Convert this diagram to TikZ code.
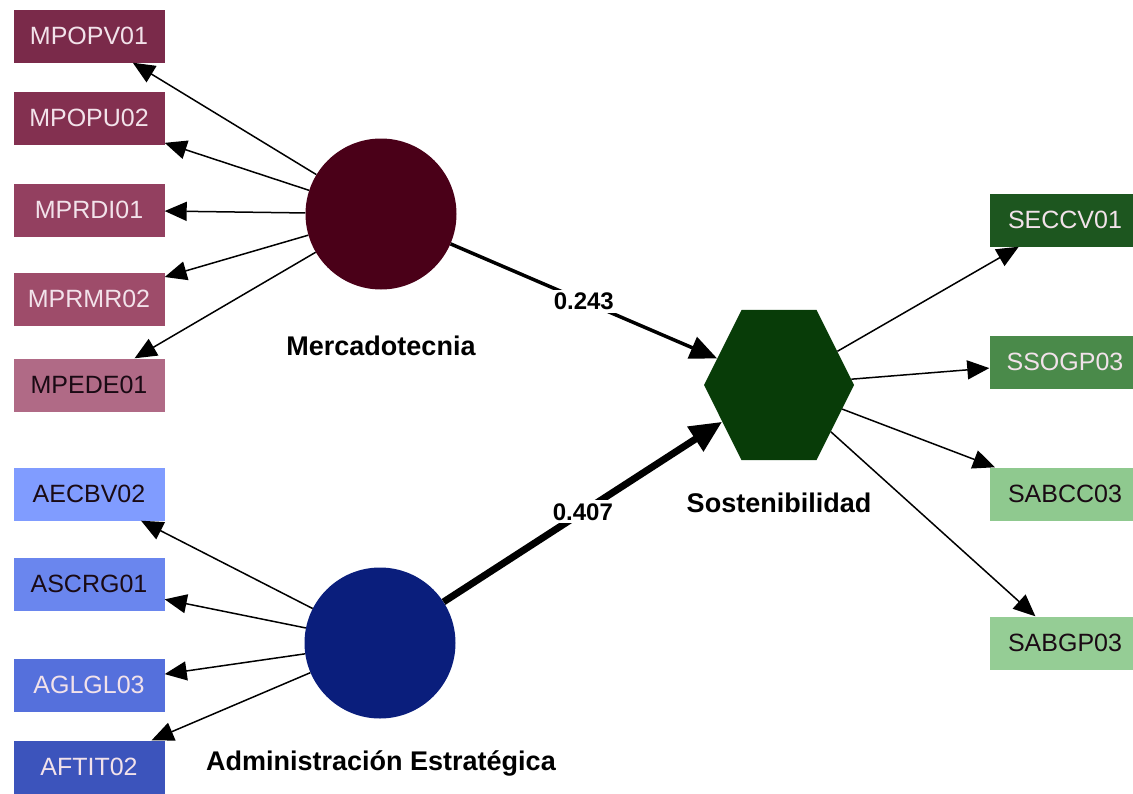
\documentclass[tikz,border=0pt]{standalone}
\usepackage{fontspec}
\setmainfont{Liberation Sans}
\usepackage{xcolor}
\usetikzlibrary{arrows.meta,shapes.geometric}

% colours of the three blocks
\definecolor{mcirc}{HTML}{4A0018}
\definecolor{mA}{HTML}{7A2A4A}
\definecolor{mB}{HTML}{833050}
\definecolor{mC}{HTML}{934060}
\definecolor{mD}{HTML}{9E4C6A}
\definecolor{mE}{HTML}{B06A86}
\definecolor{acirc}{HTML}{0A1E7C}
\definecolor{aA}{HTML}{809CFF}
\definecolor{aB}{HTML}{6A86EE}
\definecolor{aC}{HTML}{5570DC}
\definecolor{aD}{HTML}{3C54BC}
\definecolor{shex}{HTML}{083C08}
\definecolor{sA}{HTML}{1D561F}
\definecolor{sB}{HTML}{4A8A4A}
\definecolor{sC}{HTML}{8FC98F}
\definecolor{sD}{HTML}{95CD95}
\definecolor{txtlight}{HTML}{F2E2EA}
\definecolor{txtdark}{HTML}{1A0A14}

\tikzset{
  item/.style={rectangle, minimum width=151pt, minimum height=53pt, inner sep=0pt,
    font=\fontsize{25}{25}\selectfont, text=txtlight},
  dk/.style={text=txtdark},
  latent/.style={circle, minimum size=151pt, inner sep=0pt},
  lv/.style={anchor=base, font=\fontsize{27}{27}\selectfont\bfseries},
  ind/.style={-{Triangle[length=22pt,width=19pt]}, line width=1.5pt},
  pathw/.style={midway, fill=white, inner sep=3pt, font=\fontsize{24}{24}\selectfont\bfseries}
}

\begin{document}
\begin{tikzpicture}[x=1pt, y=-1pt]
  \useasboundingbox (0,0) rectangle (1133,793);

  % latent variables
  \node[latent, fill=mcirc] (merc) at (381,214) {};
  \node[latent, fill=acirc] (admin) at (380,643) {};
  \node[regular polygon, regular polygon sides=6, minimum size=150pt, inner sep=0pt,
        fill=shex, yscale=1.155, transform shape] (sost) at (779,385) {};
  \node[lv] (mercl) at (381,355) {Mercadotecnia};
  \node[lv] (adminl) at (381,770) {Administración Estratégica};
  \node[lv] (sostl) at (779,512) {Sostenibilidad};

  % indicators
  \node[item, fill=mA] (mpopv) at (89,36) {MPOPV01};
  \node[item, fill=mB] (mpopu) at (89,118) {MPOPU02};
  \node[item, fill=mC] (mprdi) at (89,210) {MPRDI01};
  \node[item, fill=mD] (mprmr) at (89,299) {MPRMR02};
  \node[item, fill=mE, dk] (mpede) at (89,385) {MPEDE01};

  \node[item, fill=aA, dk] (aecbv) at (89,494) {AECBV02};
  \node[item, fill=aB, dk] (ascrg) at (89,584) {ASCRG01};
  \node[item, fill=aC] (aglgl) at (89,685) {AGLGL03};
  \node[item, fill=aD] (aftit) at (89,767) {AFTIT02};

  \node[item, fill=sA] (seccv) at (1065,220) {SECCV01};
  \node[item, fill=sB] (ssogp) at (1065,362) {SSOGP03};
  \node[item, fill=sC, dk] (sabcc) at (1065,494) {SABCC03};
  \node[item, fill=sD, dk] (sabgp) at (1065,643) {SABGP03};

  % loadings
  \draw[ind] (merc) -- (mpopv);
  \draw[ind] (merc) -- (mpopu);
  \draw[ind] (merc) -- (mprdi);
  \draw[ind] (merc) -- (mprmr);
  \draw[ind] (merc) -- (mpede);
  \draw[ind] (admin) -- (aecbv);
  \draw[ind] (admin) -- (ascrg);
  \draw[ind] (admin) -- (aglgl);
  \draw[ind] (admin) -- (aftit);
  \draw[ind] (sost) -- (seccv);
  \draw[ind] (sost) -- (ssogp);
  \draw[ind] (sost) -- (sabcc);
  \draw[ind] (sost) -- (sabgp);

  % path coefficients
  \draw[-{Triangle[length=27pt,width=23pt]}, line width=3.5pt] (merc) -- (sost)
    node[pathw] {0.243};
  \draw[-{Triangle[length=32pt,width=28pt]}, line width=7pt] (admin) -- (sost)
    node[pathw] {0.407};
\end{tikzpicture}
\end{document}
